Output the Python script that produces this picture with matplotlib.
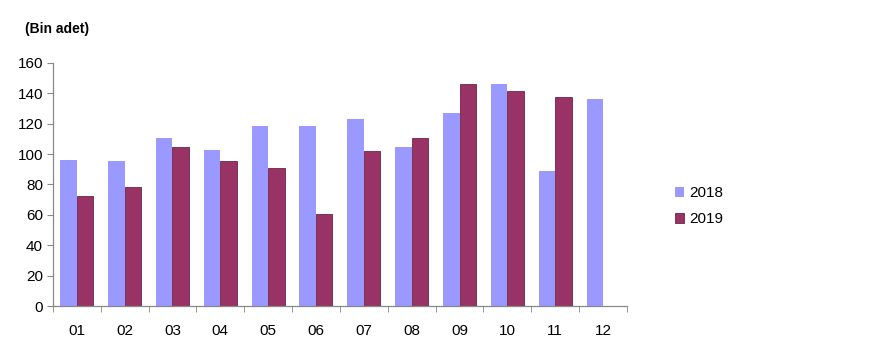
import numpy as np
import matplotlib
matplotlib.use("Agg")
import matplotlib.pyplot as plt

months = ["01", "02", "03", "04", "05", "06", "07", "08", "09", "10", "11", "12"]
vals_2018 = [96.3, 95.4, 110.4, 102.9, 118.5, 118.5, 123.1, 104.9, 126.9, 145.9, 89.1, 136.1]
vals_2019 = [72.6, 78.1, 104.9, 95.5, 91.1, 60.8, 102.0, 110.4, 145.9, 141.5, 137.8]
series_labels = ["2018", "2019"]
y_ticks = [0, 20, 40, 60, 80, 100, 120, 140, 160]

plt.rcParams["font.family"] = ["Liberation Sans", "DejaVu Sans"]

fig = plt.figure(figsize=(8.8, 3.59), dpi=100)
ax = fig.add_axes([0.060, 0.1476, 0.6525, 0.677])

x = np.arange(len(months))
w = 0.345
ax.bar(x[:len(vals_2018)] - w / 2, vals_2018, width=w, color="#9999FF", label=series_labels[0])
ax.bar(x[:len(vals_2019)] + w / 2, vals_2019, width=w, color="#993366",
       edgecolor="#6e2449", linewidth=0.6, label=series_labels[1])

ax.set_xlim(-0.5, len(months) - 0.5)
ax.set_ylim(0, 160)
ax.set_yticks(y_ticks)
ax.set_xticks(x)
ax.set_xticklabels(months)
ax.set_xticks(np.arange(-0.5, len(months)), minor=True)

for s in ("top", "right"):
    ax.spines[s].set_visible(False)
for s in ("left", "bottom"):
    ax.spines[s].set_color("#888888")
    ax.spines[s].set_linewidth(0.9)

ax.tick_params(axis="x", which="major", length=0, pad=13, labelsize=11)
ax.tick_params(axis="x", which="minor", length=4, color="#888888", direction="out")
ax.tick_params(axis="y", length=4, color="#888888", direction="out", pad=3, labelsize=11)

fig.text(0.028, 0.92, "(Bin adet)", fontsize=10, fontweight="bold", ha="left", va="center")

ax.legend(loc="center left", bbox_to_anchor=(1.06, 0.41), frameon=False,
          handlelength=0.6, handleheight=0.6, handletextpad=0.3, labelspacing=0.8,
          fontsize=11)

fig.savefig("out.png", dpi=100)
